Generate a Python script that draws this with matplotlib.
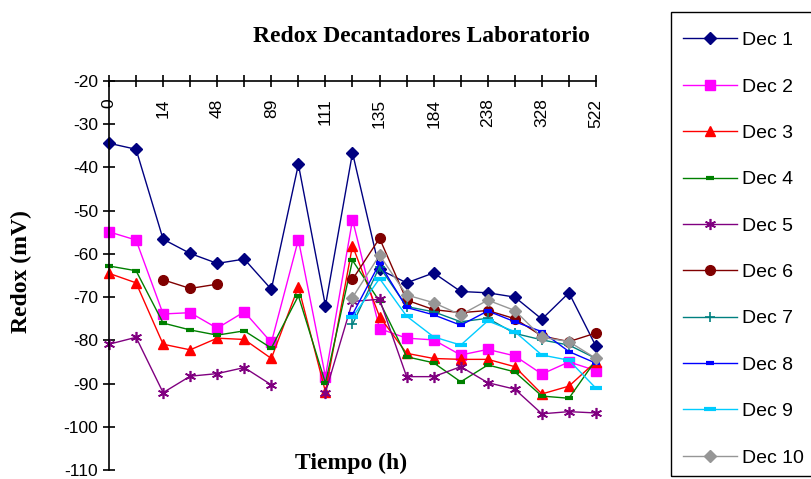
import numpy as np
import matplotlib
matplotlib.use("Agg")
import matplotlib.pyplot as plt
from matplotlib.patches import Rectangle

plt.rcParams["axes.unicode_minus"] = False

nan = np.nan

# x categories (hours); only every other one is labelled in the chart
tick_labels = ["0", "14", "48", "89", "111", "135", "184", "238", "328", "522"]
n_cat = 19

dec1 = [-34.4, -35.8, -56.6, -59.9, -62.2, -61.2, -68.2, -39.3, -72.0, -36.6,
        -63.6, -66.7, -64.4, -68.7, -69.0, -70.0, -75.1, -69.0, -81.4]
dec2 = [-54.9, -56.8, -73.9, -73.6, -77.2, -73.4, -80.5, -56.7, -88.4, -52.1,
        -77.3, -79.5, -79.9, -83.4, -82.1, -83.6, -87.8, -85.0, -87.0]
dec3 = [-64.5, -66.7, -80.9, -82.2, -79.5, -79.8, -84.2, -67.6, -91.9, -58.1,
        -74.5, -83.0, -84.2, -84.4, -84.4, -86.1, -92.4, -90.6, -84.9]
dec4 = [-62.8, -63.9, -76.0, -77.6, -78.8, -77.8, -81.8, -69.7, -89.9, -61.5,
        -71.0, -83.8, -85.2, -89.6, -85.7, -87.3, -92.9, -93.4, -84.5]
dec5 = [-80.9, -79.3, -92.1, -88.3, -87.7, -86.3, -90.3, nan, -92.1, -71.0,
        -70.5, -88.4, -88.4, -86.1, -89.8, -91.3, -97.0, -96.5, -96.8]
dec6 = [nan, nan, -66.0, -68.0, -67.0, nan, nan, nan, nan, -65.9,
        -56.4, -70.7, -72.9, -73.6, -73.1, -75.0, -79.0, -80.3, -78.3]
dec7 = [nan] * 9 + [-76.3, -63.0, -72.2, -73.4, -75.7, -74.9, -78.4, -79.9, -81.1, -84.2]
dec8 = [nan] * 9 + [-74.0, -62.2, -72.4, -74.1, -76.5, -73.2, -75.7, -78.0, -82.6, -85.3]
dec9 = [nan] * 9 + [-74.6, -65.7, -74.4, -79.2, -81.1, -75.5, -78.0, -83.4, -84.6, -91.1]
dec10 = [nan] * 9 + [-70.1, -60.3, -69.5, -71.3, -74.1, -70.7, -73.1, -79.3, -80.3, -84.2]

series = [
    ("Dec 1", dec1, "#000080", dict(marker="D", ms=6)),
    ("Dec 2", dec2, "#FF00FF", dict(marker="s", ms=7)),
    ("Dec 3", dec3, "#FF0000", dict(marker="^", ms=7)),
    ("Dec 4", dec4, "#008000", dict(marker="_", ms=6, mew=3)),
    ("Dec 5", dec5, "#800080", dict(marker=(6, 2, 0), ms=8, mew=1.2)),
    ("Dec 6", dec6, "#800000", dict(marker="o", ms=7)),
    ("Dec 7", dec7, "#008080", dict(marker="+", ms=7, mew=1.2)),
    ("Dec 8", dec8, "#0000FF", dict(marker="_", ms=6, mew=3)),
    ("Dec 9", dec9, "#00CCFF", dict(marker="_", ms=8, mew=3)),
    ("Dec 10", dec10, "#969696", dict(marker="D", ms=6)),
]

fig = plt.figure(figsize=(8.12, 4.79), dpi=100)
ax = fig.add_axes([109 / 812, 1 - 470 / 479, 487 / 812, 389 / 479])

x = np.arange(n_cat)
for name, vals, color, mk in series:
    ax.plot(x, vals, color=color, lw=1.0, label=name, clip_on=False,
            mfc=color, mec=color, **mk)

ax.set_xlim(0, n_cat - 1)
ax.set_ylim(-110, -20)
ax.set_yticks(np.arange(-110, -19, 10))

# Excel style: category axis on top, no right / bottom frame
ax.spines["right"].set_visible(False)
ax.spines["bottom"].set_visible(False)
ax.spines["top"].set_linewidth(1.2)
ax.spines["left"].set_linewidth(1.2)
ax.xaxis.set_ticks_position("top")
ax.set_xticks(x)
ax.tick_params(axis="x", direction="inout", length=8, width=1.2,
               labeltop=False, labelbottom=False)
ax.tick_params(axis="y", direction="inout", length=8, width=1.2,
               labelsize=12.5, pad=4)
for lab in ax.get_yticklabels():
    lab.set_family("Liberation Sans")

for i, lab in enumerate(tick_labels):
    ax.text(2 * i, 0.955, lab, transform=ax.get_xaxis_transform(),
            rotation=90, ha="center", va="top", fontsize=12.5,
            family="Liberation Sans")

fig.text(421 / 812, 1 - 36 / 479, "Redox Decantadores Laboratorio",
         ha="center", va="center", fontsize=17, fontweight="bold",
         family="Liberation Serif")
fig.text(351 / 812, 1 - 463 / 479, "Tiempo (h)", ha="center", va="center",
         fontsize=17, fontweight="bold", family="Liberation Serif")
fig.text(21 / 812, 1 - 272 / 479, "Redox (mV)", ha="center", va="center",
         rotation=90, fontsize=17, fontweight="bold", family="Liberation Serif")

# legend box runs off the right edge in the original
fig.patches.append(Rectangle((671 / 812, 1 - 476 / 479), 150 / 812, 464 / 479,
                             transform=fig.transFigure, fill=False,
                             edgecolor="black", linewidth=1.0))
fig.legend(loc="upper left", bbox_to_anchor=(666 / 812, 1 - 15 / 479),
           borderaxespad=0, frameon=False,
           prop={"family": "Liberation Sans", "size": 14},
           labelspacing=1.48, handlelength=2.78, handletextpad=0.26,
           borderpad=0.85)

fig.savefig("out.png", dpi=100)
